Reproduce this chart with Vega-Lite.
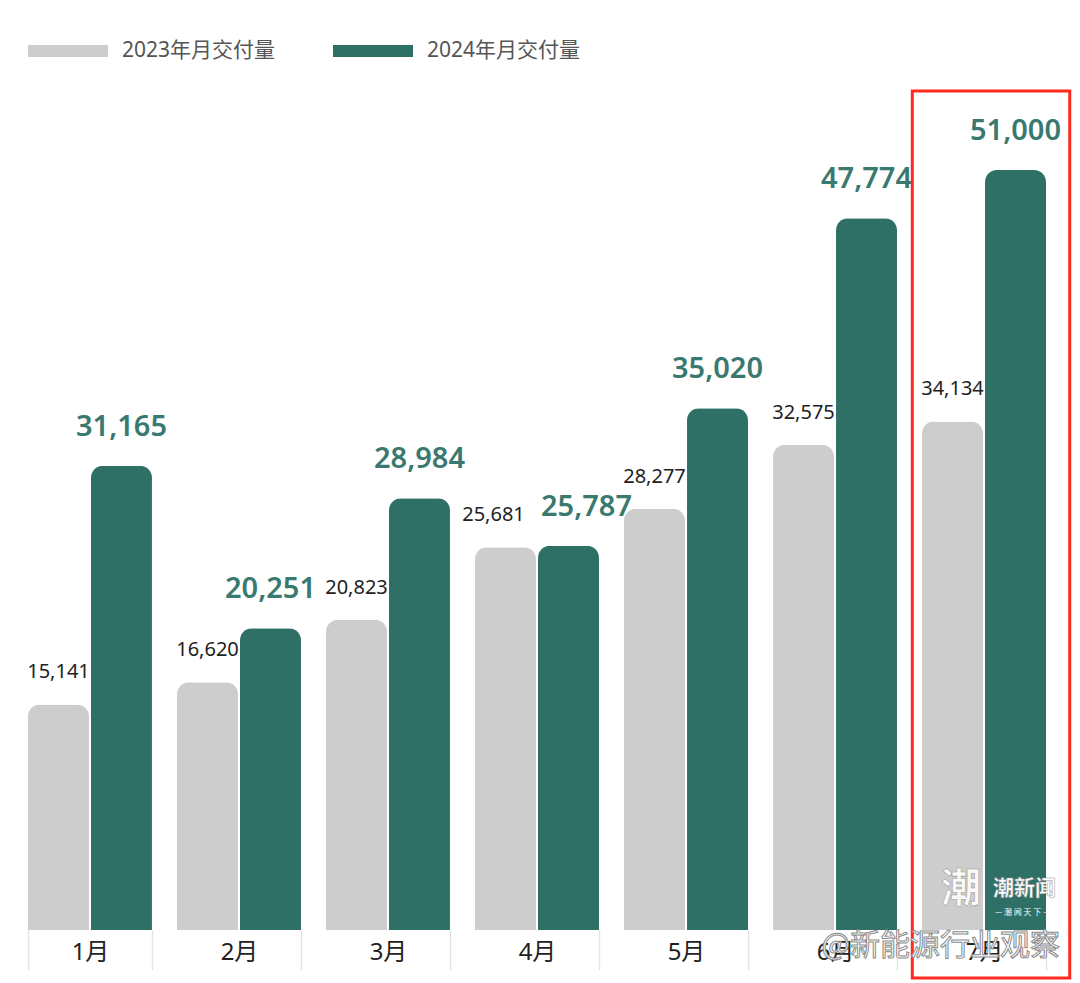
{
  "$schema": "https://vega.github.io/schema/vega-lite/v6.json",
  "width": 1018,
  "height": 887,
  "autosize": {"type": "none"},
  "padding": {"left": 28, "top": 91, "right": 34, "bottom": 5},
  "background": "#ffffff",
  "data": {
    "values": [
      {"month": "1月", "series": "2023年月交付量", "value": 15141},
      {"month": "2月", "series": "2023年月交付量", "value": 16620},
      {"month": "3月", "series": "2023年月交付量", "value": 20823},
      {"month": "4月", "series": "2023年月交付量", "value": 25681},
      {"month": "5月", "series": "2023年月交付量", "value": 28277},
      {"month": "6月", "series": "2023年月交付量", "value": 32575},
      {"month": "7月", "series": "2023年月交付量", "value": 34134},
      {"month": "1月", "series": "2024年月交付量", "value": 31165},
      {"month": "2月", "series": "2024年月交付量", "value": 20251},
      {"month": "3月", "series": "2024年月交付量", "value": 28984},
      {"month": "4月", "series": "2024年月交付量", "value": 25787},
      {"month": "5月", "series": "2024年月交付量", "value": 35020},
      {"month": "6月", "series": "2024年月交付量", "value": 47774},
      {"month": "7月", "series": "2024年月交付量", "value": 51000}
    ]
  },
  "layer": [
    {
      "mark": {"type": "bar", "cornerRadiusTopLeft": 12, "cornerRadiusTopRight": 12},
      "encoding": {
        "x": {
          "field": "month",
          "type": "nominal",
          "sort": null,
          "scale": {"paddingInner": 0.168, "paddingOuter": 0},
          "axis": {
            "title": null,
            "domain": false,
            "ticks": true,
            "tickBand": "extent",
            "tickSize": 40,
            "tickColor": "#e4e4e4",
            "tickWidth": 1.5,
            "offset": -48,
            "grid": false,
            "labelAngle": 0,
            "labelFontSize": 24,
            "labelColor": "#222222",
            "labelPadding": -30,
            "labelFont": "Noto Sans, Noto Sans CJK SC, sans-serif"
          }
        },
        "xOffset": {
          "field": "series",
          "type": "nominal",
          "scale": {"paddingInner": 0.032, "paddingOuter": 0}
        },
        "y": {
          "field": "value",
          "type": "quantitative",
          "scale": {"domain": [-3221, 56309], "nice": false},
          "axis": null
        },
        "color": {
          "field": "series",
          "type": "nominal",
          "scale": {
            "domain": ["2023年月交付量", "2024年月交付量"],
            "range": ["#cdcdcd", "#2e6f66"]
          },
          "legend": {
            "title": null,
            "orient": "none",
            "legendX": 0,
            "legendY": -80,
            "direction": "horizontal",
            "symbolType": "M-1,-0.15H1V0.15H-1Z",
            "symbolSize": 6400,
            "symbolStrokeWidth": 0,
            "symbolOpacity": 1,
            "labelFontSize": 21,
            "labelColor": "#555555",
            "labelFont": "Noto Sans, Noto Sans CJK SC, sans-serif",
            "labelOffset": 14,
            "labelLimit": 400,
            "columnPadding": 57
          }
        }
      }
    },
    {
      "transform": [{"filter": "datum.series == '2023年月交付量'"}],
      "mark": {
        "type": "text",
        "fontSize": 20,
        "color": "#222222",
        "font": "Noto Sans, sans-serif",
        "baseline": "alphabetic",
        "dy": -26,
        "dx": {"expr": "datum.month == '4月' ? -12 : 0"}
      },
      "encoding": {
        "x": {"field": "month", "type": "nominal", "sort": null},
        "xOffset": {"field": "series", "type": "nominal"},
        "y": {"field": "value", "type": "quantitative"},
        "text": {"field": "value", "type": "quantitative", "format": ","}
      }
    },
    {
      "transform": [{"filter": "datum.series == '2024年月交付量'"}],
      "mark": {
        "type": "text",
        "fontSize": 29,
        "fontWeight": 600,
        "color": "#3a796f",
        "font": "Noto Sans, sans-serif",
        "baseline": "alphabetic",
        "dy": -30,
        "dx": {"expr": "datum.month == '4月' ? 18 : 0"}
      },
      "encoding": {
        "x": {"field": "month", "type": "nominal", "sort": null},
        "xOffset": {"field": "series", "type": "nominal"},
        "y": {"field": "value", "type": "quantitative"},
        "text": {"field": "value", "type": "quantitative", "format": ","}
      }
    },
    {
      "transform": [{"filter": "datum.month == '7月' && datum.series == '2024年月交付量'"}],
      "mark": {
        "type": "bar",
        "fill": "transparent",
        "stroke": "#ff2a1f",
        "strokeWidth": 3,
        "width": {"band": 1.27},
        "xOffset": 7
      },
      "encoding": {
        "x": {"field": "month", "type": "nominal", "sort": null}
      }
    },
    {
      "transform": [{"filter": "datum.month == '7月' && datum.series == '2024年月交付量'"}],
      "mark": {
        "type": "text",
        "text": "潮新闻",
        "fontSize": 21,
        "fontWeight": "bold",
        "color": "#ffffff",
        "stroke": "#9a9a9a",
        "strokeWidth": 0.5,
        "align": "left",
        "font": "Noto Sans CJK SC",
        "dx": 9,
        "dy": 354
      },
      "encoding": {
        "x": {"field": "month", "type": "nominal", "sort": null}
      }
    },
    {
      "transform": [{"filter": "datum.month == '7月' && datum.series == '2024年月交付量'"}],
      "mark": {
        "type": "text",
        "text": "— 潮 闻 天 下 —",
        "fontSize": 8,
        "color": "#ffffff",
        "align": "left",
        "font": "Noto Sans CJK SC",
        "dx": 11,
        "dy": 378
      },
      "encoding": {
        "x": {"field": "month", "type": "nominal", "sort": null}
      }
    },
    {
      "transform": [{"filter": "datum.month == '7月' && datum.series == '2024年月交付量'"}],
      "mark": {
        "type": "text",
        "text": "潮",
        "fontSize": 40,
        "fontWeight": "bold",
        "color": "#ffffff",
        "stroke": "#9a9a9a",
        "strokeWidth": 0.6,
        "opacity": 0.9,
        "font": "Noto Sans CJK SC",
        "dx": -23,
        "dy": 355
      },
      "encoding": {
        "x": {"field": "month", "type": "nominal", "sort": null}
      }
    },
    {
      "transform": [{"filter": "datum.month == '7月' && datum.series == '2024年月交付量'"}],
      "mark": {
        "type": "text",
        "text": "@新能源行业观察",
        "fontSize": 30,
        "color": "#ffffff",
        "stroke": "#8a8a8a",
        "strokeWidth": 1,
        "align": "right",
        "font": "Noto Sans CJK SC",
        "dx": 76,
        "dy": 411
      },
      "encoding": {
        "x": {"field": "month", "type": "nominal", "sort": null}
      }
    }
  ],
  "config": {
    "view": {"stroke": null},
    "font": "Noto Sans, Noto Sans CJK SC, sans-serif"
  }
}
